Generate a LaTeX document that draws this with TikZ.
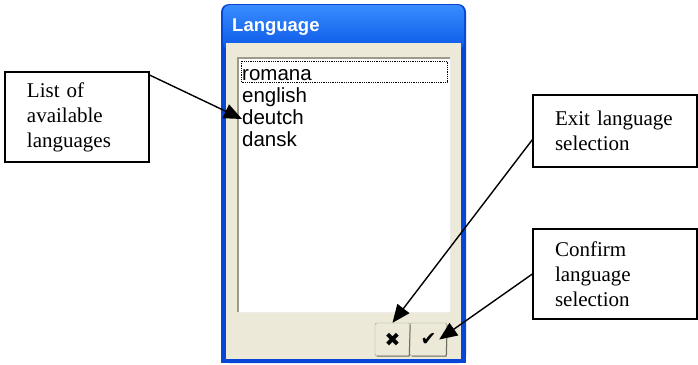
\documentclass[tikz,border=0pt]{standalone}
\usepackage{fontspec}
\setmainfont{Liberation Serif}
\newfontfamily\dlgfont{Liberation Sans}
\newfontfamily\symfont{DejaVu Sans}
\usetikzlibrary{arrows.meta}
\definecolor{xpblue}{HTML}{0A58E6}
\definecolor{xplight}{HTML}{3A8CFF}
\definecolor{xpedge}{HTML}{0846D8}
\definecolor{xpface}{HTML}{ECE9D8}
\definecolor{xpgray}{HTML}{9C9A8C}

\begin{document}
\begin{tikzpicture}[x=1pt, y=-1pt,
  lblbox/.style={draw, line width=1.3pt, align=left, inner xsep=22pt, inner ysep=0pt,
    font=\fontsize{21}{25}\selectfont},
  item/.style={anchor=west, inner sep=0pt, text height=14pt, text depth=4pt,
    font=\dlgfont\fontsize{20.5}{22}\selectfont},
  btn/.style={draw=xpgray, fill=xpface, rounded corners=2pt, minimum height=33pt, inner sep=0pt},
  arr/.style={line width=1.4pt, -{Triangle[length=18pt,width=15pt]}}]
  \useasboundingbox (0,0) rectangle (698,364);
  %окно
  \fill[xpedge, rounded corners=8pt] (221,4) rectangle (466,363);
  \fill[xpedge] (221,300) rectangle (466,363);
  \shade[top color=xplight, bottom color=xpblue, rounded corners=7pt] (223,5) rectangle (464,50);
  \fill[xpface] (226,43) rectangle (461,359);
  \node[anchor=west, inner sep=0pt, text=white, font=\dlgfont\bfseries\fontsize{18.5}{20}\selectfont] (title) at (232,27) {Language};
  %список
  \fill[white] (238,58) rectangle (450,312);
  \draw[xpgray, line width=2pt] (238,312) -- (238,58) -- (450,58);
  \draw[white!85!gray, line width=1pt] (450,58) -- (450,312) -- (238,312);
  \draw[densely dotted, line width=0.8pt] (241,61) rectangle (447,82);
  \node[item] (romana) at (242,75) {romana};
  \node[item] (english) at (242,97) {english};
  \node[item] (deutch) at (242,119) {deutch};
  \node[item] (dansk) at (242,141) {dansk};
  %кнопки
  \node[btn, minimum width=35pt] (btnx) at (392.5,339.5) {\symfont\fontsize{19}{19}\selectfont ✖};
  \node[btn, minimum width=37pt] (btnok) at (428.5,339.5) {\symfont\fontsize{19}{19}\selectfont ✔};
  \draw[xpgray!70!black, line width=1pt] ([xshift=2pt]btnx.south west) -- ([xshift=-1pt]btnx.south east) -- ([yshift=-2pt]btnx.north east);
  \draw[xpgray!70!black, line width=1pt] ([xshift=2pt]btnok.south west) -- ([xshift=-1pt]btnok.south east) -- ([yshift=-2pt]btnok.north east);
  %подписи
  \node[lblbox, text width=100pt, minimum height=90pt] (listlbl) at (77,117) {List of\\ available\\ languages};
  \node[lblbox, text width=120pt, minimum height=72pt] (exitlbl) at (615,131) {Exit language\\ selection};
  \node[lblbox, text width=120pt, minimum height=90pt] (oklbl) at (615,274) {Confirm\\ language\\ selection};
  %стрелки
  \draw[arr] (listlbl.30) -- (deutch.west);
  \draw[arr] (exitlbl.186) -- (btnx.north);
  \draw[arr] (oklbl.west) -- ([xshift=-8pt]btnok.east);
\end{tikzpicture}
\end{document}
